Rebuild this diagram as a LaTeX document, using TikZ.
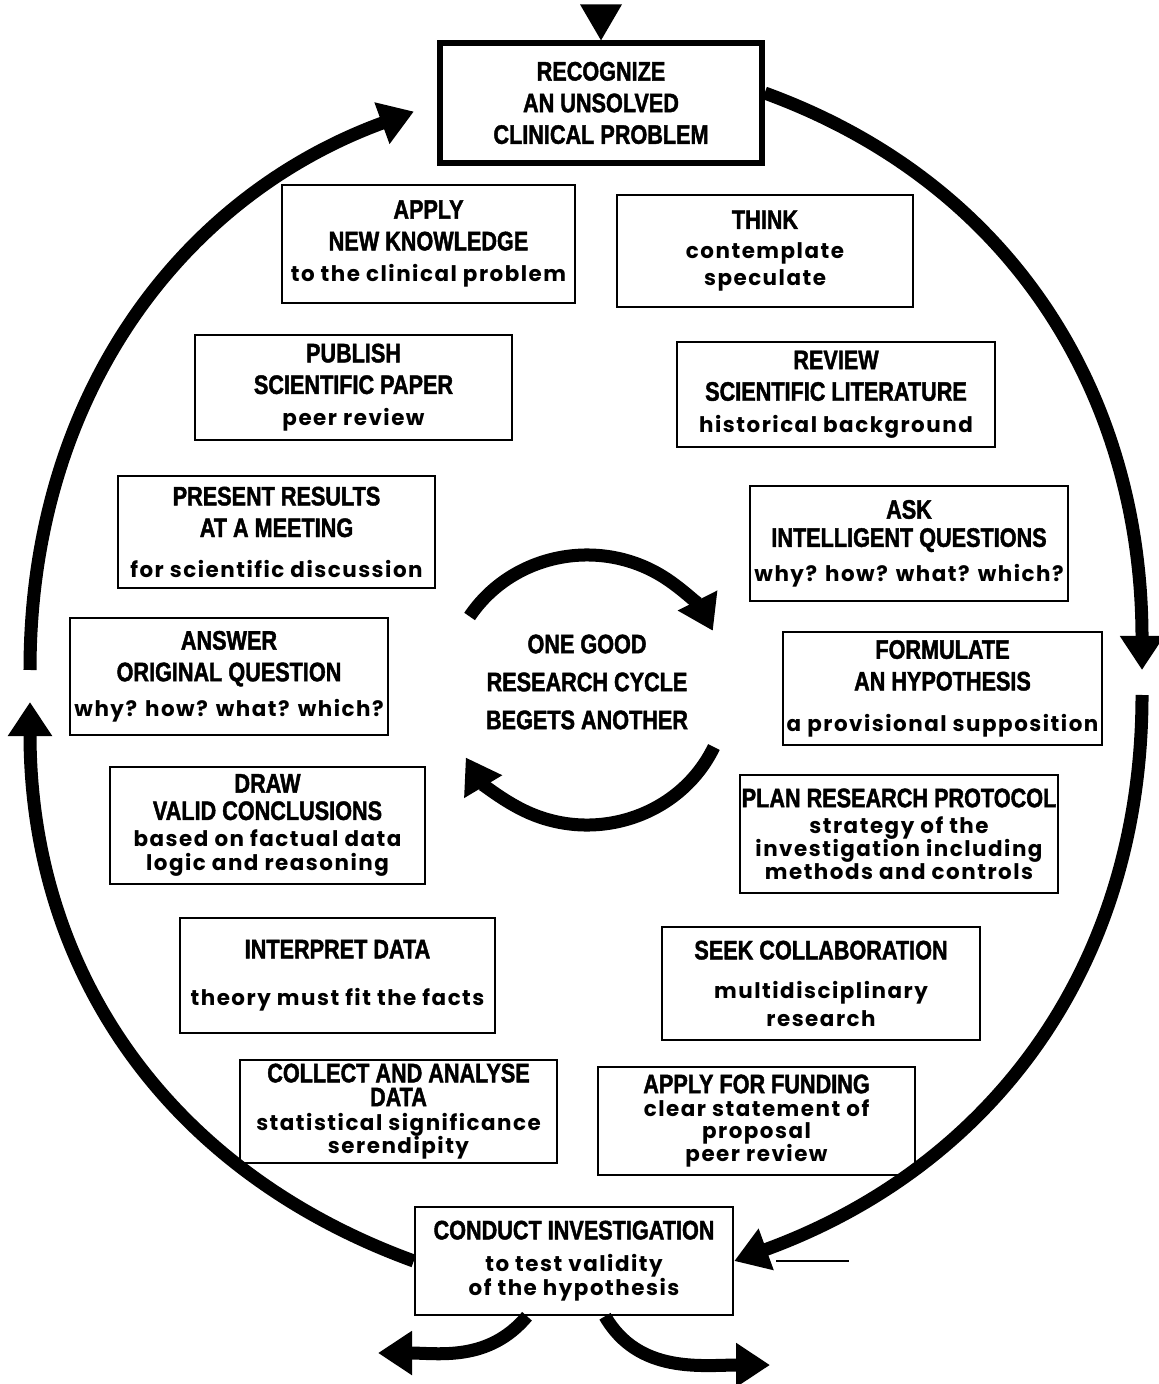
\documentclass[tikz,border=0pt]{standalone}
\usepackage{fontspec}
\newfontfamily\capsfont[FakeStretch=0.81,FakeBold=1.6]{Liberation Sans}
\newfontfamily\lowfont[LetterSpace=7]{Poppins}
\usetikzlibrary{arrows.meta,positioning,calc}
\newcommand{\lowtxt}[1]{{\lowfont\bfseries\fontsize{6.1}{7}\selectfont #1}}

\begin{document}
\begin{tikzpicture}[
  stage/.style={draw, line width=0.7pt, minimum width=3.17cm, inner sep=1pt, align=center,
    font=\capsfont\bfseries\fontsize{7.6}{9}\selectfont},
  loop/.style={line width=3.7pt, -{Triangle[length=0.34cm,width=0.42cm]}},
]
\useasboundingbox (0,0) rectangle (11.58,-13.84);

% boxes of the cycle
\node[stage, line width=1.5pt, minimum width=3.22cm, minimum height=1.2cm] (recog) at (6.01,-1.03) {RECOGNIZE\\AN UNSOLVED\\CLINICAL PROBLEM};
\node[stage, minimum width=2.93cm, minimum height=1.18cm] (apply) at (4.285,-2.44) {APPLY\\NEW KNOWLEDGE\\\lowtxt{to the clinical problem}};
\node[stage, minimum width=2.96cm, minimum height=1.12cm] (think) at (7.65,-2.51) {THINK\\[-0.5pt]\lowtxt{contemplate}\\[-1.3pt]\lowtxt{speculate}};
\node[stage, minimum height=1.05cm] (publish) at (3.535,-3.875) {PUBLISH\\SCIENTIFIC PAPER\\\lowtxt{peer review}};
\node[stage, minimum width=3.18cm, minimum height=1.05cm] (review) at (8.36,-3.945) {REVIEW\\SCIENTIFIC LITERATURE\\\lowtxt{historical background}};
\node[stage, minimum height=1.12cm] (present) at (2.765,-5.32) {PRESENT RESULTS\\AT A MEETING\\[2.4pt]\lowtxt{for scientific discussion}};
\node[stage, minimum width=3.18cm, minimum height=1.15cm] (ask) at (9.09,-5.435) {ASK\\[-1pt]INTELLIGENT QUESTIONS\\[0.8pt]\lowtxt{why? how? what? which?}};
\node[stage, minimum width=3.18cm, minimum height=1.17cm] (answer) at (2.29,-6.765) {ANSWER\\ORIGINAL QUESTION\\[1pt]\lowtxt{why? how? what? which?}};
\node[stage, minimum width=3.19cm, minimum height=1.13cm] (formulate) at (9.425,-6.885) {FORMULATE\\AN HYPOTHESIS\\[2.6pt]\lowtxt{a provisional supposition}};
\node[stage, minimum width=3.15cm, minimum height=1.17cm] (concl) at (2.675,-8.255) {DRAW\\[-1.2pt]VALID CONCLUSIONS\\[-1.5pt]\lowtxt{based on factual data}\\[-2pt]\lowtxt{logic and reasoning}};
\node[stage, minimum width=3.18cm, minimum height=1.18cm, inner xsep=0pt] (plan) at (8.99,-8.34) {PLAN RESEARCH PROTOCOL\\[-1.5pt]\lowtxt{strategy of the}\\[-2.5pt]\lowtxt{investigation including}\\[-2.5pt]\lowtxt{methods and controls}};
\node[stage, minimum width=3.15cm, minimum height=1.15cm] (interpret) at (3.375,-9.755) {INTERPRET DATA\\[4.4pt]\lowtxt{theory must fit the facts}};
\node[stage, minimum width=3.18cm, minimum height=1.13cm] (seek) at (8.21,-9.835) {SEEK COLLABORATION\\[2pt]\lowtxt{multidisciplinary}\\[-1pt]\lowtxt{research}};
\node[stage, minimum height=1.03cm] (collect) at (3.985,-11.115) {COLLECT AND ANALYSE\\[-2.2pt]DATA\\[-2pt]\lowtxt{statistical significance}\\[-2.5pt]\lowtxt{serendipity}};
\node[stage, minimum height=1.08cm] (funding) at (7.565,-11.21) {APPLY FOR FUNDING\\[-2.5pt]\lowtxt{clear statement of}\\[-2.5pt]\lowtxt{proposal}\\[-2.5pt]\lowtxt{peer review}};
\node[stage, minimum width=3.18cm, minimum height=1.08cm] (conduct) at (5.74,-12.61) {CONDUCT INVESTIGATION\\\lowtxt{to test validity}\\[-2pt]\lowtxt{of the hypothesis}};

% the one in the middle
\coordinate (hub) at (5.87,-6.90);
\node[align=center, font=\capsfont\bfseries\fontsize{7.6}{10.8}\selectfont] (mid) at (5.87,-6.82) {ONE GOOD\\RESEARCH CYCLE\\BEGETS ANOTHER};
\draw[loop] ($(hub)+(147:1.4cm and 1.35cm)$) arc[start angle=147,end angle=26,x radius=1.4cm,y radius=1.35cm];
\draw[loop] ($(hub)+(-25:1.4cm and 1.35cm)$) arc[start angle=-25,end angle=-150,x radius=1.4cm,y radius=1.35cm];

% big loop round the boxes
\fill (recog.north) -- ++(-0.21,0.36) -- ++(0.42,0) -- cycle;
\coordinate (rtip) at (11.42,-6.70);
\coordinate (rtail) at (11.42,-6.95);
\coordinate (ltip) at (0.30,-7.02);
\coordinate (ltail) at (0.30,-6.70);
\draw[loop] ([yshift=0.1cm]recog.east) to[out=-20,in=90] (rtip);
\draw[loop] (rtail) to[out=-90,in=20] (conduct.east);
\draw[loop] (conduct.west) to[out=160,in=-90] (ltip);
\draw[loop, shorten >=0.25cm] (ltail) to[out=90,in=-160] (recog.west);
\draw[line width=0.6pt] ([xshift=0.42cm]conduct.east) -- ++(0.73,0);

% out of the investigation
\coordinate (lout) at (3.78,-13.53);
\coordinate (rout) at (7.70,-13.65);
\draw[loop] ([xshift=-0.47cm]conduct.south) to[out=-130,in=0] (lout);
\draw[loop] ([xshift=0.31cm]conduct.south) to[out=-60,in=180] (rout);
\end{tikzpicture}
\end{document}
